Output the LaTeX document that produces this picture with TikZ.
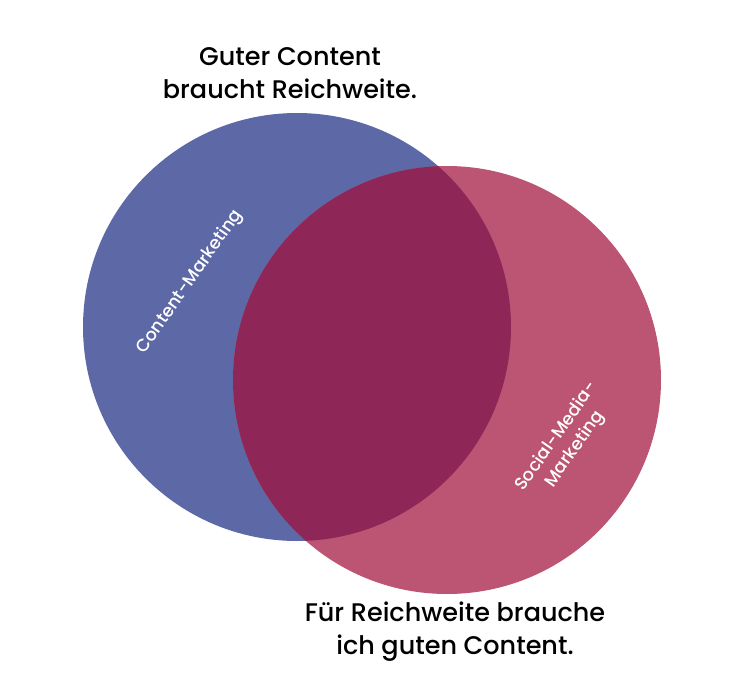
\documentclass[tikz,border=0pt]{standalone}
\usepackage{fontspec}
\setmainfont{Poppins}[UprightFont=* Medium]
\definecolor{cmblue}{HTML}{5D69A6}
\definecolor{smpink}{HTML}{BC5473}
\definecolor{both}{HTML}{8E2757}

\begin{document}
\begin{tikzpicture}[x=1pt, y=-1pt, 
        ring/.style = {circle, inner sep=0pt, minimum size=428pt},
        claim/.style = {align=center, font=\fontsize{25.5}{33}\selectfont, text=black},
        tag/.style = {align=center, font=\fontsize{17.5}{22}\selectfont, text=white, rotate=55}] 
        \useasboundingbox (0,0) rectangle (756,680);
        \node[ring, fill=cmblue] (cm) at (297,327) {}; 
        \node[ring, fill=smpink] (sm) at (447,380) {}; 
        % overlap of both circles
        \begin{scope}
            \clip (297,327) circle (214);
            \fill[both] (447,380) circle (214);
        \end{scope}
        \node[claim] (top) at (290,73) {Guter Content\\braucht Reichweite.}; 
        \node[claim] (bottom) at (455,632) {Für Reichweite brauche\\ich guten Content.}; 
        \node[tag] (cmtag) at (190,282) {Content-Marketing}; 
        \node[tag] (smtag) at (566,443) {Social-Media-\\Marketing}; 
    \end{tikzpicture}
\end{document}
